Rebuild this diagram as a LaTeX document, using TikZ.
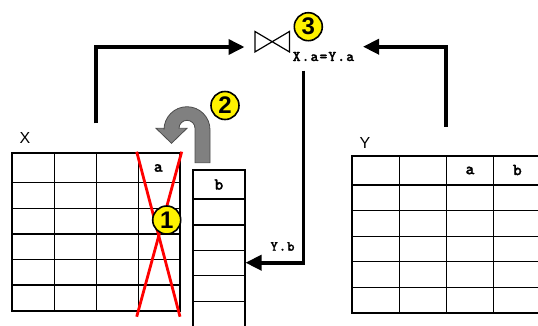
\documentclass[tikz,border=0pt]{standalone}
\usepackage{fontspec}
\setmainfont{Liberation Sans}
\newfontfamily\cour{lmmonolt10-bold}[Extension=.otf,LetterSpace=7,FakeBold=1.3]
\usetikzlibrary{arrows.meta}
\tikzset{
  outer/.style={line width=1.8pt},
  inner/.style={line width=1.1pt},
  conn/.style={line width=3.6pt,-{Triangle[length=16pt,width=15pt]}},
  numcirc/.style={circle,draw=black,line width=1.6pt,fill=yellow,minimum size=28pt,inner sep=0pt,font=\bfseries\fontsize{24}{24}\selectfont},
  tlabel/.style={font=\fontsize{16}{16}\selectfont,inner sep=0pt},
  hdr/.style={font=\cour\fontsize{17}{17}\selectfont,inner sep=0pt},
  small/.style={font=\cour\fontsize{14}{14}\selectfont,inner sep=0pt},
  cross/.style={draw=red,line width=2.8pt},
}
\begin{document}
\begin{tikzpicture}[x=1pt,y=-1pt]
\useasboundingbox (0,0) rectangle (538,325);
% ---- table X ----
\foreach \yy in {182.7,208.3,234,259.3,285} \draw[inner] (12.3,\yy) -- (180,\yy);
\foreach \xx in {54.3,96.7,138.3} \draw[inner] (\xx,153.3) -- (\xx,310.7);
\draw[outer] (12.3,153.3) rectangle (180,310.7);
\node[tlabel] (xlab) at (25,138) {X};
\node[hdr] (xa) at (158.3,168) {a};
% ---- column b ----
\foreach \yy in {199,225,250.7,275.7,301.7} \draw[inner] (192.7,\yy) -- (245,\yy);
\draw[outer] (192.7,335) -- (192.7,170) -- (245,170) -- (245,335);
\node[hdr] (bb) at (218.8,184.5) {b};
% ---- table Y ----
\foreach \yy in {185,210.7,236.7,261.7,287.3} \draw[inner] (352.3,\yy) -- (545,\yy);
\foreach \xx in {399.3,446.7,493.3} \draw[inner] (\xx,156) -- (\xx,312.7);
\draw[outer] (545,156) -- (352.3,156) -- (352.3,312.7) -- (545,312.7);
\node[tlabel] (ylab) at (365,143.3) {Y};
\node[hdr] (ya) at (470,170.5) {a};
\node[hdr] (yb) at (517.3,170) {b};
% ---- red cross ----
\draw[cross] (136.7,151.7) -- (180,316.7);
\draw[cross] (181.7,151.7) -- (136.7,316.7);
% ---- join symbol ----
\node[inner sep=0pt,minimum width=34pt,minimum height=20pt] (join) at (272.2,41.7) {};
\draw[line width=1.2pt,line join=miter] (join.north west) -- (join.south east) -- (join.north east) -- (join.south west) -- cycle;
\node[small,anchor=west,font=\cour\fontsize{15}{15}\selectfont] (cond) at (292.5,56.5) {X.a=Y.a};
% ---- connectors ----
\coordinate (xtop) at (96,123.3);
\coordinate (ytop) at (446,126.7);
\coordinate (joinL) at (244.5,47);
\coordinate (joinR) at (363,46.7);
\coordinate (joinB) at (303.3,70.7);
\coordinate (bin) at (245.5,262.7);
\draw[conn] (xtop) |- (joinL);
\draw[conn] (ytop) |- (joinR);
\draw[conn] (joinB) |- (bin);
\node[small] (yblab) at (282.5,246.5) {Y.b};
% ---- gray U-turn arrow ----
\draw[fill=gray,draw=black!70,line width=0.8pt,line join=miter]
  (210,162.7) -- (210,129.7) arc[start angle=0,end angle=180,radius=23pt]
  -- (164,128.3) -- (156,128.3) -- (171.5,143.3) -- (187,128.3) -- (179,128.3)
  arc[start angle=180,end angle=0,radius=8pt] -- (195,162.7) -- cycle;
% ---- numbered circles ----
\node[numcirc] (n1) at (166.7,220) {1};
\node[numcirc] (n2) at (225,105.5) {2};
\node[numcirc] (n3) at (308.3,26.7) {3};
\end{tikzpicture}
\end{document}
